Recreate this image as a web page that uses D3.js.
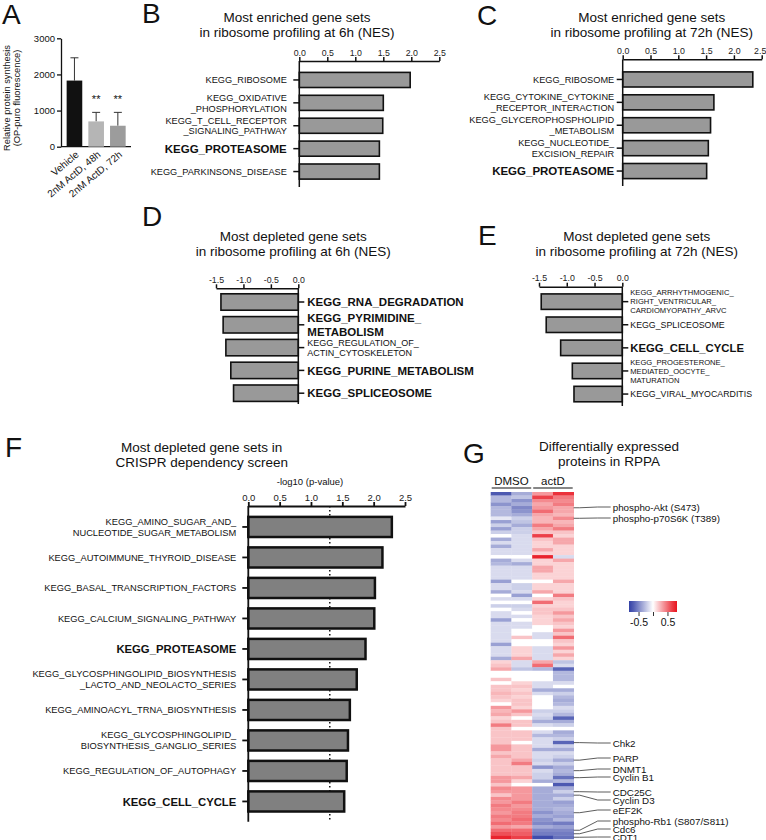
<!DOCTYPE html>
<html>
<head>
<meta charset="utf-8">
<script src="https://cdn.jsdelivr.net/npm/d3@7"></script>
<style>
  body { margin: 0; background: #fff; }
  svg { display: block; font-family: "Liberation Sans", Arial, sans-serif; }
</style>
</head>
<body>
<div id="chart"></div>
<script>
// ---- panel A: protein synthesis ----
const aGroups = ["Vehicle", "2nM ActD, 48h", "2nM ActD, 72h"];
const aMeans = [1830, 700, 580];
const aErrors = [630, 250, 370];
const aStars = ["", "**", "**"];
const aTicks = [0, 1000, 2000, 3000];

// ---- panels B-F: gene set bars ----
const nesTicks = [0, 0.5, 1, 1.5, 2, 2.5];
const negTicks = [-1.5, -1, -0.5, 0];

const bLabels = ["KEGG_RIBOSOME", "KEGG_OXIDATIVE\n_PHOSPHORYLATION", "KEGG_T_CELL_RECEPTOR\n_SIGNALING_PATHWAY", "KEGG_PROTEASOME", "KEGG_PARKINSONS_DISEASE"];
const bValues = [1.98, 1.50, 1.49, 1.43, 1.43];
const bBold = [3];

const cLabels = ["KEGG_RIBOSOME", "KEGG_CYTOKINE_CYTOKINE\n_RECEPTOR_INTERACTION", "KEGG_GLYCEROPHOSPHOLIPID\n_METABOLISM", "KEGG_NUCLEOTIDE_\nEXCISION_REPAIR", "KEGG_PROTEASOME"];
const cValues = [2.34, 1.64, 1.58, 1.54, 1.51];
const cBold = [4];

const dLabels = ["KEGG_RNA_DEGRADATION", "KEGG_PYRIMIDINE_\nMETABOLISM", "KEGG_REGULATION_OF_\nACTIN_CYTOSKELETON", "KEGG_PURINE_METABOLISM", "KEGG_SPLICEOSOME"];
const dValues = [-1.41, -1.37, -1.32, -1.23, -1.18];
const dBold = [0, 1, 3, 4];

const eLabels = ["KEGG_ARRHYTHMOGENIC_\nRIGHT_VENTRICULAR_\nCARDIOMYOPATHY_ARVC", "KEGG_SPLICEOSOME", "KEGG_CELL_CYCLE", "KEGG_PROGESTERONE_\nMEDIATED_OOCYTE_\nMATURATION", "KEGG_VIRAL_MYOCARDITIS"];
const eValues = [-1.46, -1.37, -1.11, -0.90, -0.87];
const eBold = [2];

const fLabels = ["KEGG_AMINO_SUGAR_AND_\nNUCLEOTIDE_SUGAR_METABOLISM", "KEGG_AUTOIMMUNE_THYROID_DISEASE", "KEGG_BASAL_TRANSCRIPTION_FACTORS", "KEGG_CALCIUM_SIGNALING_PATHWAY", "KEGG_PROTEASOME", "KEGG_GLYCOSPHINGOLIPID_BIOSYNTHESIS\n_LACTO_AND_NEOLACTO_SERIES", "KEGG_AMINOACYL_TRNA_BIOSYNTHESIS", "KEGG_GLYCOSPHINGOLIPID_\nBIOSYNTHESIS_GANGLIO_SERIES", "KEGG_REGULATION_OF_AUTOPHAGY", "KEGG_CELL_CYCLE"];
const fValues = [2.29, 2.14, 2.02, 2.01, 1.87, 1.73, 1.62, 1.59, 1.57, 1.53];
const fBold = [4, 9];
const fThreshold = 1.3;

// ---- panel G: RPPA heatmap (rows top to bottom) ----
const rppaGroups = ["DMSO", "actD"];
const dmso1 = [-0.7,-0.3,-0.3,-0.45,-0.3,-0.3,-0.3,-0.1,-0.4,-0.2,
  -0.4,-0.2,0,-0.35,-0.15,-0.35,-0.15,-0.15,0,-0.35,
  -0.3,-0.15,-0.15,-0.15,-0.15,-0.4,-0.15,-0.15,-0.35,0,
  -0.15,0,-0.2,0,-0.15,-0.15,-0.4,-0.15,-0.15,-0.15,
  -0.15,-0.15,-0.15,-0.4,-0.15,-0.15,-0.15,-0.35,0.15,0.2,
  0.3,0,0,0.2,0,0.2,0.2,0.25,0.2,0.15,
  0,0.35,0.25,0.3,0.15,0.2,0.45,0.2,0.2,0.2,
  0.2,0.2,0.35,0.35,0.2,0.3,0.2,0.2,0.2,0.2,
  0.2,0.35,0.35,0.2,0.4,0.35,0.2,0.4,0.35,0.45,
  0.4,0.35,0.45,0.4,0.5,0.35,0.5,0.6,0.75];
const dmso2 = [-0.35,-0.25,-0.45,-0.35,-0.5,-0.45,-0.35,-0.2,-0.25,-0.35,
  -0.2,-0.2,-0.15,-0.15,-0.15,-0.15,-0.15,-0.15,0,-0.15,
  -0.35,-0.15,-0.15,-0.15,-0.15,0,-0.2,-0.2,-0.15,-0.4,
  -0.15,0,-0.2,-0.15,0,-0.15,0,-0.15,-0.15,0,
  0,0.2,0,0,0.15,0.15,0.15,0.3,-0.15,-0.15,
  -0.25,0,0,0,0.15,0.2,0.15,0.2,0.15,0.2,
  0.2,0.15,0.35,0.2,0,0.2,0.2,0,0.2,0.2,
  0.2,0,0.2,0.2,0.2,0.2,0.3,0.45,0.2,0.2,
  0.2,0.3,0.15,0,0.35,0.35,0.35,0.35,0.45,0.35,
  0.4,0.45,0.45,0.5,0.45,0.3,0.5,0.55,0.65];
const actd1 = [0.35,0.65,0.4,0.3,0.35,0.5,0.3,0.25,0.25,0.45,
  0.3,0.2,0.65,0.2,0.15,0.15,0.3,0.15,0.75,0.15,
  0.15,0.3,0.3,0.15,0.15,0,0.15,0.15,0.3,0,
  0.15,0.5,0.15,0.2,0.2,0.15,0.15,0.15,0,0,
  -0.15,-0.15,0,0,-0.15,-0.15,-0.15,-0.15,0.3,0.5,
  -0.3,0,0,0,-0.15,-0.15,-0.35,-0.15,0,0,
  0,0,-0.2,-0.15,-0.2,-0.35,-0.15,0,-0.15,-0.3,
  -0.15,-0.15,-0.15,-0.35,-0.15,-0.15,-0.2,-0.15,-0.45,-0.15,
  -0.2,-0.2,-0.35,0,-0.35,-0.35,-0.35,-0.35,-0.35,-0.35,
  -0.35,-0.45,-0.35,-0.45,-0.5,-0.35,-0.5,-0.55,-0.75];
const actd2 = [0.7,0.45,0.4,0.45,0.3,0.3,0.25,0.4,0.25,0.3,
  0.45,0.2,0.15,0.3,0.3,0.15,0.15,0.15,-0.15,0.3,
  0.15,0.15,0.15,0.15,0.15,0.3,0.15,0.15,0.15,0.45,
  0.2,0.15,0.15,0.2,0.35,0.2,0.3,0.2,0.15,0.35,
  0.2,0.5,0.2,0.15,0.35,0.15,0.3,0.15,-0.25,-0.15,
  -0.65,-0.3,-0.3,-0.3,-0.15,0,-0.35,-0.2,-0.3,-0.35,
  -0.3,-0.15,-0.2,-0.3,-0.65,-0.35,-0.2,0,-0.35,-0.3,
  -0.2,-0.65,-0.2,-0.35,-0.15,-0.2,-0.35,-0.2,-0.35,-0.3,
  -0.35,-0.6,-0.3,-0.7,-0.35,-0.2,-0.35,-0.2,-0.4,-0.35,
  -0.3,-0.35,-0.4,-0.3,-0.55,-0.4,-0.5,-0.55,-0.6];
const rppaColumns = [dmso1, dmso2, actd1, actd2];
const rppaLabels = ["phospho-Akt (S473)", "phospho-p70S6K (T389)", "Chk2", "PARP", "DNMT1", "Cyclin B1", "CDC25C", "Cyclin D3", "eEF2K", "phospho-Rb1 (S807/S811)", "Cdc6", "CDT1"];
const rppaLabelRows = [4, 7, 71, 76, 79, 81, 85, 86, 91, 96, 97, 98];
const legendTicks = [-0.5, 0, 0.5];

// layout only: where the label text sits after de-overlapping
const rppaTextY = [507, 518, 743, 758, 769, 777, 792, 800, 810, 821, 829, 837];

const svg = d3.select("#chart").append("svg").attr("width", 766).attr("height", 840);

function letter(t, x, y) {
  svg.append("text").attr("x", x).attr("y", y).attr("font-size", 28).attr("fill", "#111").text(t);
}

function title(lines, cx, y0, size) {
  lines.forEach((l, k) => {
    svg.append("text").attr("x", cx).attr("y", y0 + k * 15).attr("text-anchor", "middle")
      .attr("font-size", size || 13.5).attr("fill", "#111").text(l);
  });
}

// ---------- A ----------
letter("A", 2, 24);
const aY = d3.scaleLinear().domain([0, 3000]).range([146.7, 38.3]);
const aX = d3.scaleBand().domain(aGroups).range([61, 131.3]).paddingInner(0.28).paddingOuter(0.26);
const aFill = ["#111111", "#b5b5b5", "#9c9c9c"];

const aAxis = svg.append("g").attr("transform", "translate(61,0)")
  .call(d3.axisLeft(aY).tickValues(aTicks).tickFormat(d3.format("d"))
    .tickSize(4).tickPadding(2).tickSizeOuter(0));
aAxis.attr("font-family", null).attr("font-size", 9.5);
aAxis.selectAll("path,line").attr("stroke", "#111").attr("stroke-width", 1.3);
aAxis.selectAll("text").attr("fill", "#111");
svg.append("line").attr("x1", 61).attr("x2", 131).attr("y1", aY(0)).attr("y2", aY(0))
  .attr("stroke", "#111").attr("stroke-width", 1.3);

aGroups.forEach((grp, i) => {
  const cx = aX(grp) + aX.bandwidth() / 2;
  const top = aY(aMeans[i] + aErrors[i]);
  svg.append("line").attr("x1", cx).attr("x2", cx).attr("y1", aY(aMeans[i])).attr("y2", top)
    .attr("stroke", "#333").attr("stroke-width", 1);
  svg.append("line").attr("x1", cx - 4).attr("x2", cx + 4).attr("y1", top).attr("y2", top)
    .attr("stroke", "#333").attr("stroke-width", 1);
  svg.append("text").attr("x", cx).attr("y", top - 9).attr("text-anchor", "middle")
    .attr("font-size", 11).attr("fill", "#111").text(aStars[i]);
  svg.append("text").attr("text-anchor", "end").attr("font-size", 10).attr("fill", "#111")
    .attr("transform", `translate(${cx + 5},${aY(0) + 9}) rotate(-40)`).text(grp);
});
svg.selectAll("rect.abar").data(aMeans).join("rect").attr("class", "abar")
  .attr("x", (d, i) => aX(aGroups[i])).attr("width", aX.bandwidth())
  .attr("y", d => aY(d)).attr("height", d => aY(0) - aY(d))
  .attr("fill", (d, i) => aFill[i]);

svg.append("text").attr("transform", "translate(10,98) rotate(-90)").attr("text-anchor", "middle")
  .attr("font-size", 9.3).attr("fill", "#111").text("Relative protein synthesis");
svg.append("text").attr("transform", "translate(20,98) rotate(-90)").attr("text-anchor", "middle")
  .attr("font-size", 9.3).attr("fill", "#111").text("(OP-puro fluorescence)");

// ---------- horizontal bar panels ----------
function hbarPanel(cfg) {
  const g = svg.append("g");
  const x = d3.scaleLinear().domain(cfg.domain).range(cfg.xRange);
  const y = d3.scaleBand().domain(d3.range(cfg.values.length)).range(cfg.yRange)
    .paddingInner(cfg.pad).paddingOuter(cfg.pad / 2);
  const x0 = x(0);

  const ax = g.append("g").attr("transform", `translate(0,${cfg.axisY})`)
    .call(d3.axisTop(x).tickValues(cfg.ticks).tickFormat(d => d.toFixed(1))
      .tickSize(4).tickPadding(1.5).tickSizeOuter(0));
  ax.attr("font-family", null).attr("font-size", cfg.tickFont);
  ax.selectAll("path,line").attr("stroke", "#111").attr("stroke-width", cfg.axisW);
  ax.selectAll("text").attr("fill", "#222");
  if (cfg.lastTickShift) ax.selectAll("text").filter(d => d === cfg.domain[1]).attr("dx", cfg.lastTickShift);

  if (cfg.threshold != null) {
    g.append("line").attr("x1", x(cfg.threshold)).attr("x2", x(cfg.threshold))
      .attr("y1", cfg.axisY).attr("y2", cfg.axisBottom)
      .attr("stroke", "#111").attr("stroke-width", 1.5).attr("stroke-dasharray", "1.5,2.5");
  }

  g.selectAll("rect").data(cfg.values).join("rect")
    .attr("x", d => Math.min(x0, x(d))).attr("width", d => Math.abs(x(d) - x0))
    .attr("y", (d, i) => y(i)).attr("height", y.bandwidth())
    .attr("fill", cfg.fill).attr("stroke", "#111").attr("stroke-width", cfg.barW);

  g.append("line").attr("x1", x0).attr("x2", x0).attr("y1", cfg.axisY).attr("y2", cfg.axisBottom)
    .attr("stroke", "#111").attr("stroke-width", cfg.axisW);

  const dir = cfg.side === "left" ? -1 : 1;
  cfg.labels.forEach((lab, i) => {
    const yc = y(i) + y.bandwidth() / 2;
    g.append("line").attr("x1", x0).attr("x2", x0 + dir * 6).attr("y1", yc).attr("y2", yc)
      .attr("stroke", "#111").attr("stroke-width", cfg.axisW);
    const lines = lab.split("\n");
    const bold = cfg.bold.includes(i);
    const fs = bold ? cfg.boldFont : (lines.length >= 3 ? 7.6 : cfg.smallFont);
    const lh = fs * (bold ? 1.15 : 1.18);
    lines.forEach((l, k) => {
      g.append("text")
        .attr("x", x0 + dir * cfg.gap)
        .attr("y", yc + (k - (lines.length - 1) / 2) * lh + 0.36 * fs)
        .attr("text-anchor", cfg.side === "left" ? "end" : "start")
        .attr("font-size", fs).attr("font-weight", bold ? "bold" : "normal")
        .attr("fill", "#111").text(l);
    });
  });
}

letter("B", 142, 23);
title(["Most enriched gene sets", "in ribosome profiling at 6h (NES)"], 297, 21.7);
hbarPanel({ labels: bLabels, values: bValues, bold: bBold, domain: [0, 2.5], ticks: nesTicks,
  xRange: [299.3, 439.3], axisY: 61, axisBottom: 187, yRange: [68.5, 183], pad: 0.34,
  side: "left", gap: 12.5, smallFont: 9.2, boldFont: 11.5, tickFont: 8.8,
  fill: "#999999", barW: 1.6, axisW: 1.5 });

letter("C", 477, 25);
title(["Most enriched gene sets", "in ribosome profiling at 72h (NES)"], 651.7, 21.7);
hbarPanel({ labels: cLabels, values: cValues, bold: cBold, domain: [0, 2.5], ticks: nesTicks,
  xRange: [622.7, 761.7], axisY: 59.3, axisBottom: 186, yRange: [68, 182.5], pad: 0.34,
  side: "left", gap: 8.5, smallFont: 9.2, boldFont: 11.5, tickFont: 8.8, lastTickShift: -2,
  fill: "#999999", barW: 1.6, axisW: 1.5 });

letter("D", 142, 226);
title(["Most depleted gene sets", "in ribosome profiling at 6h (NES)"], 293.3, 241.4);
hbarPanel({ labels: dLabels, values: dValues, bold: dBold, domain: [-1.5, 0], ticks: negTicks,
  xRange: [216, 298.3], axisY: 288.3, axisBottom: 404, yRange: [290.6, 404.6], pad: 0.28,
  side: "right", gap: 9, smallFont: 9, boldFont: 11.5, tickFont: 8.8,
  fill: "#999999", barW: 1.6, axisW: 1.5 });

letter("E", 478, 245);
title(["Most depleted gene sets", "in ribosome profiling at 72h (NES)"], 636.7, 241.4);
hbarPanel({ labels: eLabels, values: eValues, bold: eBold, domain: [-1.5, 0], ticks: negTicks,
  xRange: [539, 622.3], axisY: 286.7, axisBottom: 406, yRange: [290.1, 405.6], pad: 0.33,
  side: "right", gap: 8, smallFont: 8.8, boldFont: 11.3, tickFont: 8.8,
  fill: "#999999", barW: 1.6, axisW: 1.5 });

letter("F", 5, 457);
title(["Most depleted gene sets in", "CRISPR dependency screen"], 201.7, 452);
svg.append("text").attr("x", 310).attr("y", 485).attr("text-anchor", "middle")
  .attr("font-size", 9.5).attr("fill", "#111").text("-log10 (p-value)");
hbarPanel({ labels: fLabels, values: fValues, bold: fBold, domain: [0, 2.5], ticks: nesTicks,
  xRange: [248.3, 405], axisY: 506, axisBottom: 821.7, yRange: [511.7, 816.7], pad: 0.34,
  side: "left", gap: 12, smallFont: 9.3, boldFont: 11.3, tickFont: 9.5,
  fill: "#808080", barW: 2.5, axisW: 1.8, threshold: fThreshold });

// ---------- G ----------
letter("G", 463, 463);
title(["Differentially expressed", "proteins in RPPA"], 609, 451.4);

const color = d3.scaleLinear().domain([-0.8, 0, 0.8]).range(["#3341a6", "#ffffff", "#e8141f"]).clamp(true);
const hx = d3.scaleBand().domain(d3.range(rppaColumns.length)).range([490.7, 573.7]);
const hy = d3.scaleBand().domain(d3.range(dmso1.length)).range([492, 839]);

rppaColumns.forEach((col, c) => {
  svg.append("g").selectAll("rect").data(col).join("rect")
    .attr("x", hx(c)).attr("width", hx.bandwidth() + 0.3)
    .attr("y", (d, r) => hy(r)).attr("height", hy.bandwidth() + 0.3)
    .attr("fill", d => color(d));
});

rppaGroups.forEach((grp, k) => {
  const xa = hx(k * 2) + 1, xb = hx(k * 2 + 1) + hx.bandwidth() - 1;
  svg.append("line").attr("x1", xa).attr("x2", xb).attr("y1", 488).attr("y2", 488)
    .attr("stroke", "#111").attr("stroke-width", 1.2);
  svg.append("text").attr("x", (xa + xb) / 2).attr("y", 485).attr("text-anchor", "middle")
    .attr("font-size", 11.5).attr("fill", "#111").text(grp);
});

const hRight = hx(rppaColumns.length - 1) + hx.bandwidth();
rppaLabels.forEach((lab, i) => {
  const y0 = hy(rppaLabelRows[i]) + hy.bandwidth() / 2;
  const y1 = rppaTextY[i];
  svg.append("path").attr("d", `M${hRight},${y0}L${hRight + 6},${y0}L${hRight + 24},${y1}L${hRight + 37},${y1}`)
    .attr("fill", "none").attr("stroke", "#333").attr("stroke-width", 0.8);
  svg.append("text").attr("x", hRight + 39).attr("y", y1 + 3.5).attr("font-size", 9.8)
    .attr("fill", "#111").text(lab);
});

// colour legend
const lx = d3.scaleLinear().domain([-0.83, 0.83]).range([629, 677]);
const grad = svg.append("defs").append("linearGradient").attr("id", "rppaGrad");
d3.range(0, 1.0001, 0.1).forEach(t => {
  grad.append("stop").attr("offset", t).attr("stop-color", color(-0.83 + t * 1.66));
});
svg.append("rect").attr("x", lx(-0.83)).attr("y", 601).attr("width", lx(0.83) - lx(-0.83)).attr("height", 11)
  .attr("fill", "url(#rppaGrad)");
const lg = svg.append("g").attr("transform", "translate(0,612)")
  .call(d3.axisBottom(lx).tickValues(legendTicks).tickSize(4).tickPadding(3)
    .tickFormat(d => d === 0 ? "" : d.toFixed(1)));
lg.attr("font-family", null).attr("font-size", 10.5);
lg.select(".domain").remove();
lg.selectAll("line").attr("stroke", "#333");
lg.selectAll("text").attr("fill", "#111");
</script>
</body>
</html>
